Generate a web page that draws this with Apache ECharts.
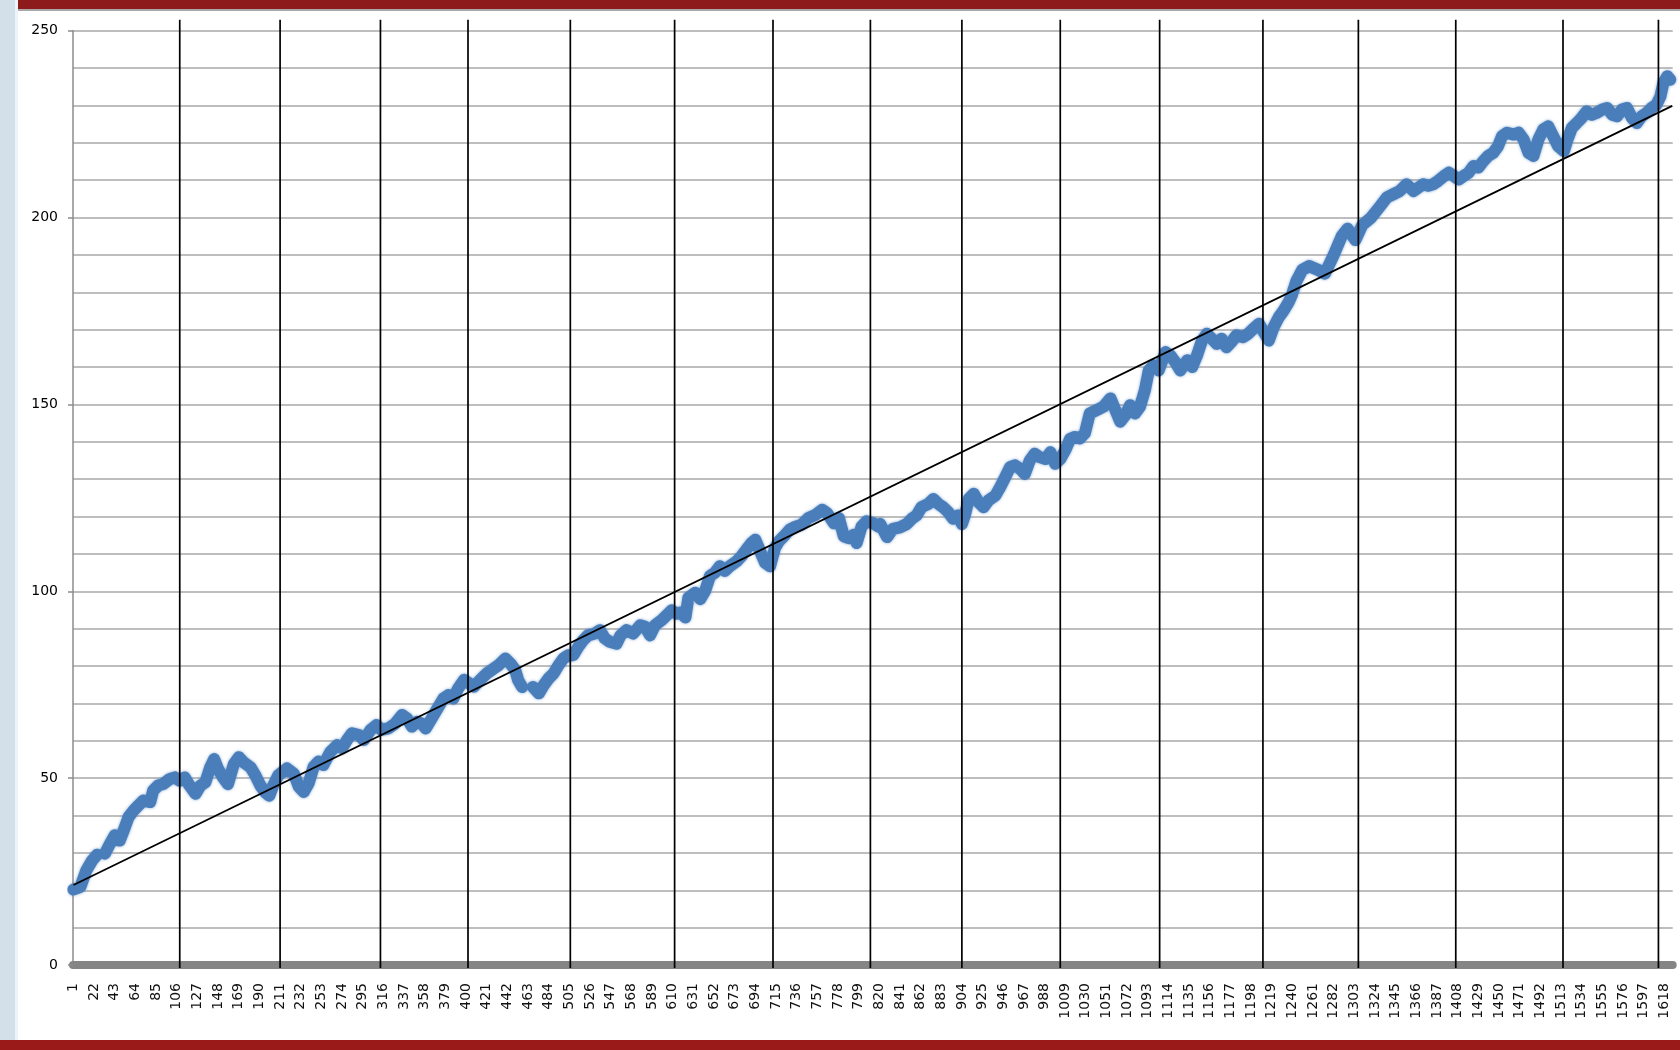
<!DOCTYPE html>
<html><head><meta charset="utf-8">
<script src="https://cdn.jsdelivr.net/npm/echarts@6/dist/echarts.min.js"></script>
<style>html,body{margin:0;padding:0;background:#fff;}#c{width:1680px;height:1050px;}</style>
</head><body><div id="c"></div>
<script>
// ---- data ----
const categoryCount = 1626;
const categories = Array.from({length: categoryCount}, (_, i) => String(i + 1));
const yTicks = [0, 50, 100, 150, 200, 250];
const labelEvery = 21;

const seriesX = [
  1, 8, 14, 20, 25, 29,
  33, 38, 43, 48, 52, 57, 62, 67, 72, 79, 82, 87, 92, 99, 104, 109, 114, 119, 125, 130, 135, 140, 144, 148, 153, 158, 164, 169, 174, 181, 186, 191, 196, 200, 204, 209,
  211, 218, 225, 230, 235, 240, 245, 250, 255, 262, 269, 274, 279, 284, 291, 296, 303, 309, 314, 321, 328, 335, 340, 345, 350, 355, 359, 364, 370, 377, 382, 387, 392, 398, 403, 408,
  414, 421, 428, 433, 440, 445, 450, 453, 457, 462,
  468, 474, 479, 484, 489, 494, 499, 504, 509, 514, 519, 524, 531, 536, 541, 546, 553, 557, 563, 570, 577, 582, 587, 592, 599, 604, 609, 614,
  618, 623, 626, 633, 638, 643, 648, 653, 658, 663, 668, 675, 680, 685, 690, 694, 699, 704, 709, 714, 718, 723, 729, 735, 741, 748, 755, 762, 767, 774, 779, 784, 789, 794, 797, 802, 807, 814, 819,
  821, 828, 834, 841, 848, 853, 858, 863, 870, 875, 880, 885, 890, 895, 900, 904, 907, 911, 916, 921, 926, 931, 938, 943, 948, 953, 958, 963, 968, 973, 978, 983, 989, 994, 999, 1004, 1009, 1014, 1019,
  1024, 1029, 1034, 1041, 1048, 1055, 1060, 1065, 1070, 1075, 1080, 1085, 1090, 1094, 1099, 1104, 1111, 1116, 1121, 1126, 1133, 1138, 1143, 1148, 1153, 1158, 1163, 1168, 1173, 1178, 1183, 1190, 1195, 1200, 1206, 1211, 1216, 1221, 1226, 1231, 1236,
  1239, 1244, 1250, 1257, 1266, 1273, 1282, 1290, 1296, 1304, 1311, 1320, 1329,
  1336, 1343, 1349, 1356, 1363, 1368, 1373, 1378, 1383, 1388, 1394, 1399, 1404, 1409, 1414, 1419, 1424, 1429, 1434, 1439, 1444, 1449, 1453, 1458, 1465, 1470, 1475, 1480, 1485, 1490, 1495, 1500, 1505, 1510, 1516, 1519, 1524, 1529, 1534, 1539, 1544, 1549, 1555, 1560, 1565, 1570, 1575, 1580, 1585, 1590, 1595, 1600, 1605, 1610, 1614, 1617, 1621, 1624
];
const seriesY = [
  20.2, 20.9, 25.3, 28, 29.5, null,
  29.8, 32.4, 34.7, 33.3, 36, 39.6, 41.3, 42.7, 44, 43.6, 46.7, 48, 48.4, 49.8, 50.2, 49.3, 50.2, 48, 45.8, 48, 48.9, 52.9, 55.1, 52.4, 50.2, 48.4, 53.8, 55.6, 54.2, 52.9, 50.7, 48, 46.2, 45.3, 48, 50.7,
  50.8, 52.6, 51.2, 47.7, 46.3, 48.6, 53, 54.4, 53.5, 57, 58.8, 58, 60.2, 62, 61.5, 60.2, 62.9, 64.2, 62.9, 63.3, 64.6, 66.9, 66, 63.8, 65.1, 64.6, 63.3, 65.5, 68.2, 71.3, 72.2, 71.3, 74, 76.3, 75.4, 74.5,
  76.2, 78, 79.3, 80.2, 82, 80.7, 78.9, 76.2, 74.4, null,
  74.4, 72.7, 74.9, 76.7, 78, 80.2, 82, 82.9, 82.9, 85.1, 86.9, 88.2, 88.7, 89.6, 87.4, 86.5, 86, 88.2, 89.6, 88.7, 90.9, 90.5, 88.2, 90.9, 92.3, 93.6, 94.9, 94,
  94.3, 93, 98.3, 99.6, 97.9, 100.1, 104.1, 105, 106.7, 105.4, 106.7, 108, 109.4, 111.2, 112.9, 113.8, 110.7, 107.6, 106.7, 111.6, 113.4, 114.7, 116.5, 117.3, 117.8, 119.6, 120.4, 121.8, 120.9, 118.2, 119.6, 114.7, 114.2, 115.1, 112.9, 117.3, 118.7, 118.2, 117.3,
  118, 114.5, 116.7, 117.1, 118, 119.4, 120.3, 122.5, 123.4, 124.7, 123.4, 122.5, 121.2, 119.4, 120.3, 118, 120.3, 124.7, 126.1, 123.8, 122.5, 124.3, 125.6, 127.9, 130.5, 133.2, 133.7, 132.8, 131.4, 135, 136.8, 135.9, 135.4, 137.2, 134.1, 135.4, 137.7, 140.8, 141.3,
  140.9, 142.3, 147.6, 148.5, 149.4, 151.6, 148.5, 145.4, 147.1, 149.8, 147.6, 149.4, 153.8, 159.1, 160.5, 159.1, 164, 163.1, 161.3, 159.1, 161.8, 160, 163.1, 167.1, 168.9, 167.6, 166.2, 167.6, 165.3, 166.7, 168.5, 168, 168.9, 170.2, 171.6, 169.3, 167.1, 170.7, 173.3, 175.1, 177.3,
  179, 183, 186, 187, 186, 185, 190, 195, 197, 194, 198, 200, 203,
  205.4, 206.3, 207.1, 208.9, 207.1, 208, 208.9, 208.5, 208.9, 209.8, 211.1, 212, 211.1, 210.2, 211.1, 212, 213.8, 213.4, 215.1, 216.5, 217.3, 219.1, 221.8, 222.7, 222.2, 222.7, 220.9, 217.3, 216.5, 220.9, 223.6, 224.4, 221.8, 219.1, 217.8, 220.5, 224, 225.3, 226.7, 228.4, 227.5, 228, 228.9, 229.3, 227.5, 227.1, 228.9, 229.3, 226.7, 225.3, 227.1, 228, 229.3, 230.2, 232.4, 236, 237.8, 236.9
];

const trendX = [1, 1626];
const trendY = [21.4, 229.9];

const dividerX = [109, 211, 313, 402, 506, 612, 712, 811, 904, 1004, 1105, 1210, 1307, 1406, 1515, 1612];
const dividerRange = [-0.8, 252.9];

// ---- chart ----
const chart = echarts.init(document.getElementById('c'), null, {renderer: 'canvas'});
const FONT = 'DejaVu Sans';
const option = {
  animation: false,
  backgroundColor: '#ffffff',
  graphic: [
    {type: 'rect', shape: {x: 0, y: 0, width: 1680, height: 9}, style: {fill: '#8e1b1b'}, z: 10},
    {type: 'rect', shape: {x: 18, y: 9, width: 1662, height: 2}, style: {fill: '#a8a8a8'}, z: 10},
    {type: 'rect', shape: {x: 0, y: 0, width: 17, height: 1040}, style: {fill: '#d3dfe9'}, z: 10},
    {type: 'rect', shape: {x: 15, y: 0, width: 3, height: 1040}, style: {fill: '#eef3f7'}, z: 10},
    {type: 'rect', shape: {x: 0, y: 1040, width: 1680, height: 10}, style: {fill: '#9a1a1a'}, z: 10}
  ],
  grid: {left: 73, right: 7.3, top: 30.7, bottom: 85, outerBoundsMode: 'none', containLabel: false},
  xAxis: {
    type: 'category',
    data: categories,
    boundaryGap: true,
    offset: 3,
    axisLine: {show: true, lineStyle: {color: '#858585', width: 8}},
    axisTick: {show: false},
    splitLine: {show: false},
    axisLabel: {
      interval: function (index) { return index % labelEvery === 0; },
      rotate: 90, margin: 15, color: '#111',
      fontFamily: FONT, fontSize: 14
    }
  },
  yAxis: {
    type: 'value',
    min: yTicks[0], max: yTicks[yTicks.length - 1], interval: yTicks[1] - yTicks[0],
    axisLine: {show: true, lineStyle: {color: '#8c8c8c', width: 1.5}},
    axisTick: {show: true, length: 5, lineStyle: {color: '#8c8c8c', width: 1.5}},
    axisLabel: {margin: 15, color: '#000', fontFamily: FONT, fontSize: 14},
    splitLine: {show: true, lineStyle: {color: '#a9a9a9', width: 1.5}},
    minorTick: {show: false, splitNumber: 5},
    minorSplitLine: {show: true, lineStyle: {color: '#a9a9a9', width: 1.5}}
  },
  series: [
    {
      type: 'line', name: 'series',
      data: seriesX.map((x, i) => [x - 1, seriesY[i]]),
      showSymbol: false, symbol: 'none', connectNulls: false,
      lineStyle: {color: '#4a7ebb', width: 12, join: 'round', cap: 'round',
                  shadowBlur: 3, shadowColor: 'rgba(79,129,189,0.7)'},
      z: 3
    },
    {
      type: 'line', name: 'trend',
      data: trendX.map((x, i) => [x - 1, trendY[i]]),
      showSymbol: false, symbol: 'none',
      lineStyle: {color: '#000', width: 1.8},
      z: 4
    },
    {
      type: 'custom', name: 'dividers',
      clip: false,
      data: dividerX.map(x => [x - 1]),
      encode: {x: 0},
      renderItem: function (params, api) {
        const c = api.value(0);
        const p1 = api.coord([c, dividerRange[1]]);
        const p2 = api.coord([c, dividerRange[0]]);
        return {type: 'line', shape: {x1: p1[0], y1: p1[1], x2: p2[0], y2: p2[1]},
                style: {stroke: '#000', lineWidth: 1.7}};
      },
      z: 5
    }
  ]
};
chart.setOption(option);
</script>
</body></html>
